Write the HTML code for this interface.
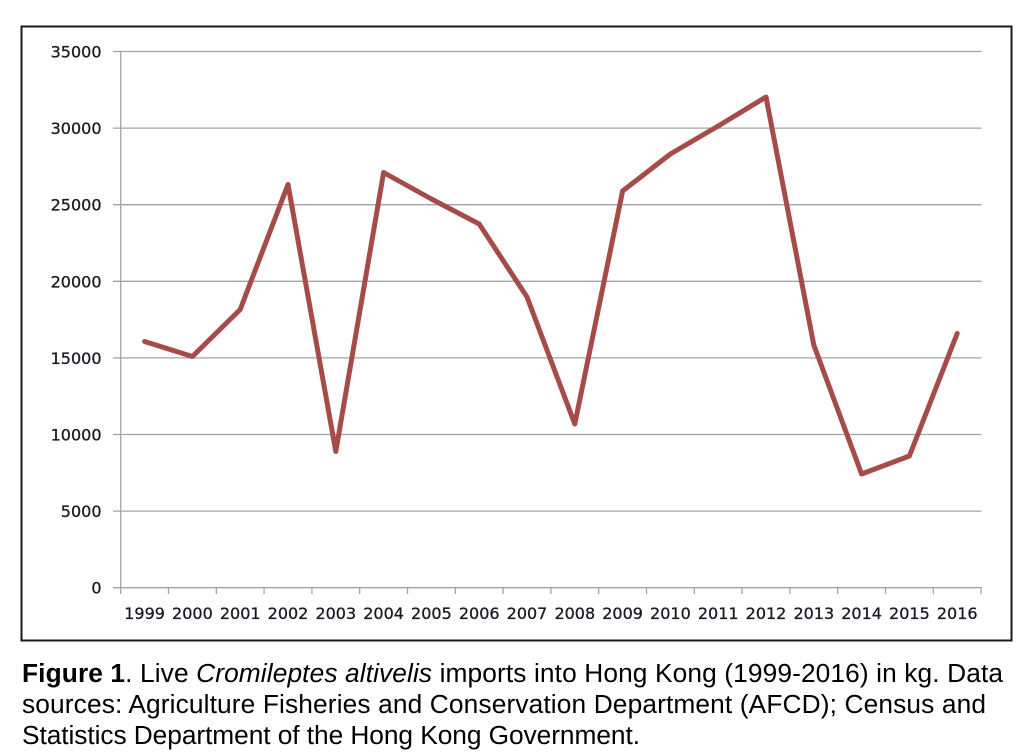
<!DOCTYPE html>
<html>
<head>
<meta charset="utf-8">
<style>
  html, body { margin: 0; padding: 0; background: #ffffff; }
  body { width: 1027px; height: 755px; overflow: hidden; }
  svg { display: block; }
</style>
</head>
<body>
<svg width="1027" height="755" viewBox="0 0 1027 755" xmlns="http://www.w3.org/2000/svg">
  <rect x="0" y="0" width="1027" height="755" fill="#ffffff"/>
  <!-- chart frame -->
  <rect x="21.5" y="26.5" width="990" height="614" fill="none" stroke="#1a1a1a" stroke-width="2"/>

  <!-- gridlines -->
  <g stroke="#a3a3a3" stroke-width="1.3">
    <line x1="113" y1="51.5" x2="981.5" y2="51.5"/>
    <line x1="113" y1="128.1" x2="981.5" y2="128.1"/>
    <line x1="113" y1="204.7" x2="981.5" y2="204.7"/>
    <line x1="113" y1="281.3" x2="981.5" y2="281.3"/>
    <line x1="113" y1="357.9" x2="981.5" y2="357.9"/>
    <line x1="113" y1="434.5" x2="981.5" y2="434.5"/>
    <line x1="113" y1="511.1" x2="981.5" y2="511.1"/>
    <line x1="113" y1="587.7" x2="981.5" y2="587.7"/>
    <!-- y axis -->
    <line x1="120.7" y1="51.5" x2="120.7" y2="587.7"/>
  </g>
  <!-- x ticks -->
  <g stroke="#a3a3a3" stroke-width="1.3">
    <line x1="120.7" y1="587.7" x2="120.7" y2="594"/>
    <line x1="168.5" y1="587.7" x2="168.5" y2="594"/>
    <line x1="216.3" y1="587.7" x2="216.3" y2="594"/>
    <line x1="264.1" y1="587.7" x2="264.1" y2="594"/>
    <line x1="311.9" y1="587.7" x2="311.9" y2="594"/>
    <line x1="359.7" y1="587.7" x2="359.7" y2="594"/>
    <line x1="407.5" y1="587.7" x2="407.5" y2="594"/>
    <line x1="455.3" y1="587.7" x2="455.3" y2="594"/>
    <line x1="503.1" y1="587.7" x2="503.1" y2="594"/>
    <line x1="550.9" y1="587.7" x2="550.9" y2="594"/>
    <line x1="598.7" y1="587.7" x2="598.7" y2="594"/>
    <line x1="646.5" y1="587.7" x2="646.5" y2="594"/>
    <line x1="694.3" y1="587.7" x2="694.3" y2="594"/>
    <line x1="742.1" y1="587.7" x2="742.1" y2="594"/>
    <line x1="789.9" y1="587.7" x2="789.9" y2="594"/>
    <line x1="837.7" y1="587.7" x2="837.7" y2="594"/>
    <line x1="885.5" y1="587.7" x2="885.5" y2="594"/>
    <line x1="933.3" y1="587.7" x2="933.3" y2="594"/>
    <line x1="981.1" y1="587.7" x2="981.1" y2="594"/>
  </g>

  <!-- y labels -->
  <g font-family="'DejaVu Sans', 'Liberation Sans', sans-serif" font-size="16" fill="#1a1a22" stroke="#1a1a22" stroke-width="0.3" text-anchor="end">
    <text x="101.5" y="57.5">35000</text>
    <text x="101.5" y="134.1">30000</text>
    <text x="101.5" y="210.7">25000</text>
    <text x="101.5" y="287.3">20000</text>
    <text x="101.5" y="363.9">15000</text>
    <text x="101.5" y="440.5">10000</text>
    <text x="101.5" y="517.1">5000</text>
    <text x="101.5" y="593.7">0</text>
  </g>

  <!-- x labels -->
  <g font-family="'DejaVu Sans', 'Liberation Sans', sans-serif" font-size="16" fill="#1a1a22" stroke="#1a1a22" stroke-width="0.3" text-anchor="middle">
    <text x="144.6" y="619">1999</text>
    <text x="192.4" y="619">2000</text>
    <text x="240.2" y="619">2001</text>
    <text x="288.0" y="619">2002</text>
    <text x="335.8" y="619">2003</text>
    <text x="383.6" y="619">2004</text>
    <text x="431.4" y="619">2005</text>
    <text x="479.2" y="619">2006</text>
    <text x="527.0" y="619">2007</text>
    <text x="574.8" y="619">2008</text>
    <text x="622.6" y="619">2009</text>
    <text x="670.4" y="619">2010</text>
    <text x="718.2" y="619">2011</text>
    <text x="766.0" y="619">2012</text>
    <text x="813.8" y="619">2013</text>
    <text x="861.6" y="619">2014</text>
    <text x="909.4" y="619">2015</text>
    <text x="957.2" y="619">2016</text>
  </g>

  <!-- series -->
  <polyline fill="none" stroke="#a64c48" stroke-width="5" stroke-linejoin="round" stroke-linecap="round"
    points="144.6,341.5 192.4,356.5 240.2,309.5 288.0,184.5 335.8,451.5 383.6,172.5 431.4,199 479.2,224 527.0,297 574.8,424 622.6,191 670.4,154 718.2,126 766.0,97 813.8,345 861.6,474 909.4,456 957.2,333.5"/>

  <!-- caption -->
  <g font-family="'Liberation Sans', Arial, sans-serif" font-size="26.3" fill="#000000">
    <text x="22" y="682" textLength="981" lengthAdjust="spacing"><tspan font-weight="bold">Figure 1</tspan>. Live <tspan font-style="italic">Cromileptes altivelis</tspan> imports into Hong Kong (1999-2016) in kg. Data</text>
    <text x="22" y="713" textLength="964" lengthAdjust="spacing">sources: Agriculture Fisheries and Conservation Department (AFCD); Census and</text>
    <text x="22" y="744" textLength="618" lengthAdjust="spacing">Statistics Department of the Hong Kong Government.</text>
  </g>
</svg>
</body>
</html>
